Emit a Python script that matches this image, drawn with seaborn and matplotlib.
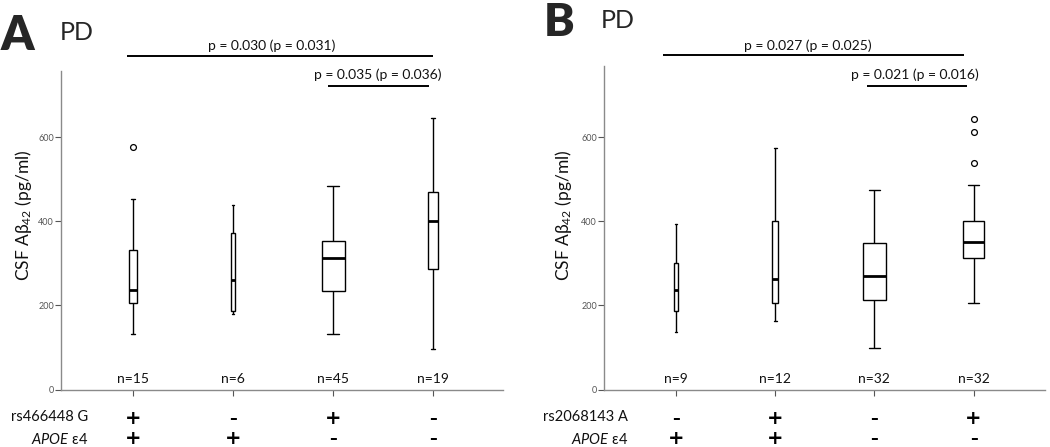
import numpy as np
import pandas as pd
import matplotlib
matplotlib.use("Agg")
import matplotlib.pyplot as plt
import matplotlib.transforms as mtransforms
import seaborn as sns

# ---------------- data ----------------
groups = ["G1", "G2", "G3", "G4"]

snp_A = ["+", "-", "+", "-"]
apoe_A = ["+", "+", "-", "-"]
n_A = [15, 6, 45, 19]
lo_A = [133, 180, 131, 97]
q1_A = [205, 186, 234, 286]
med_A = [236, 261, 314, 400]
q3_A = [333, 373, 354, 469]
hi_A = [453, 440, 484, 646]
out_A = [[577], [], [], []]

snp_B = ["-", "+", "-", "+"]
apoe_B = ["+", "+", "-", "-"]
n_B = [9, 12, 32, 32]
lo_B = [136, 164, 99, 205]
q1_B = [188, 205, 214, 312]
med_B = [236, 262, 269, 352]
q3_B = [302, 401, 349, 402]
hi_B = [394, 575, 474, 486]
out_B = [[], [], [], [540, 613, 644]]

yticks = [0, 200, 400, 600]
snp_label_A = "rs466448 G"
snp_label_B = "rs2068143 A"
p_A = ["p = 0.030 (p = 0.031)", "p = 0.035 (p = 0.036)"]
p_B = ["p = 0.027 (p = 0.025)", "p = 0.021 (p = 0.016)"]

# ---------------- style ----------------
sns.set_theme(style="white")
FAM = ["Lato", "DejaVu Sans"]
plt.rcParams["font.family"] = FAM
plt.rcParams["mathtext.fontset"] = "custom"
plt.rcParams["mathtext.rm"] = "Lato"
plt.rcParams["mathtext.it"] = "Lato:italic"

W, H = 1050, 447
fig = plt.figure(figsize=(W / 100, H / 100), dpi=100)


def px_axes(left, right, top, bottom):
    return fig.add_axes([left / W, 1 - bottom / H, (right - left) / W, (bottom - top) / H])


def fy(ypx):
    return 1 - ypx / H


def draw_panel(ax, lo, q1, med, q3, hi, outs, ns, widths, ylim_top, xlim):
    for i, g in enumerate(groups):
        df = pd.DataFrame({"group": [g] * 5, "value": [lo[i], q1[i], med[i], q3[i], hi[i]]})
        sns.boxplot(data=df, x="group", y="value", order=groups, width=widths[i],
                    whis=(0, 100), showfliers=False, color="white", linecolor="black",
                    linewidth=1.0, ax=ax,
                    medianprops=dict(linewidth=2.0, color="black"))
    odf = pd.DataFrame({"group": [g for i, g in enumerate(groups) for _ in outs[i]],
                        "value": [v for o in outs for v in o]})
    if len(odf):
        sns.stripplot(data=odf, x="group", y="value", order=groups, jitter=False,
                      color="white", edgecolor="black", linewidth=0.9, size=4.2, ax=ax)
    ax.set_xlim(*xlim)
    ax.set_ylim(0, ylim_top)
    ax.set_yticks(yticks)
    ax.set_yticklabels([str(t) for t in yticks], fontsize=6.5, color="#555555")
    ax.set_xticks(range(len(groups)))
    ax.set_xticklabels([])
    ax.set_xlabel("")
    ax.set_ylabel("")
    for s in ["top", "right"]:
        ax.spines[s].set_visible(False)
    for s in ["left", "bottom"]:
        ax.spines[s].set_color("#8a8a8a")
        ax.spines[s].set_linewidth(1.0)
    ax.tick_params(axis="both", which="both", direction="out", length=4, width=0.8,
                   color="#555555", pad=1, left=True, bottom=True)
    for i, n in enumerate(ns):
        ax.text(i, 25, f"n={n}", ha="center", va="center", fontsize=10, color="#111111")


# ---------------- panel A ----------------
axA = px_axes(61, 503, 71, 389.5)
draw_panel(axA, lo_A, q1_A, med_A, q3_A, hi_A, out_A, n_A,
           [0.08, 0.04, 0.23, 0.095], 758, (-0.72, 3.70))

# ---------------- panel B ----------------
axB = px_axes(604, 1045, 66, 389.5)
draw_panel(axB, lo_B, q1_B, med_B, q3_B, hi_B, out_B, n_B,
           [0.045, 0.064, 0.23, 0.22], 770, (-0.725, 3.72))

# y labels
ylab = "CSF A\u03b2$_{42}$ (pg/ml)"
fig.text(24 / W, fy(215), ylab, rotation=90, ha="center",
         va="center", fontsize=12.5, color="#111111")
fig.text(563 / W, fy(215), ylab, rotation=90, ha="center",
         va="center", fontsize=12.5, color="#111111")

# significance bars
def sig(ax, x0, x1, y, txt, tx, ty):
    ax.plot([x0, x1], [y, y], color="black", lw=1.4, clip_on=False, solid_capstyle="butt")
    ax.text(tx, ty, txt, ha="center", va="baseline", fontsize=10, color="#111111",
            clip_on=False)

sig(axA, -0.06, 3.0, 794, p_A[0], 1.39, 808)
sig(axA, 1.95, 2.96, 723, p_A[1], 2.45, 739)
sig(axB, -0.13, 2.9, 796, p_B[0], 1.33, 808)
sig(axB, 1.93, 2.93, 723, p_B[1], 2.41, 739)

# genotype rows
for ax, snp, apoe, lab, rx in [(axA, snp_A, apoe_A, snp_label_A, 88),
                               (axB, snp_B, apoe_B, snp_label_B, 628)]:
    tr = mtransforms.blended_transform_factory(ax.transData, fig.transFigure)
    for i in range(len(groups)):
        for sym, ypx in [(snp[i], 418), (apoe[i], 439)]:
            if sym == "+":
                ax.text(i, fy(ypx), "+", transform=tr, ha="center", va="center",
                        fontsize=14, fontweight="bold", color="black", family="DejaVu Sans")
            else:
                ax.text(i, fy(ypx), "\u2013", transform=tr, ha="center", va="center",
                        fontsize=11, fontweight="bold", color="black", family="DejaVu Sans")
    fig.text(rx / W, fy(417), lab, ha="right", va="center", fontsize=10.5, color="#111111")
    fig.text(rx / W, fy(439), r"$\it{APOE}$ ε4", ha="right", va="center", fontsize=10.5,
             color="#111111")

# panel letters
fig.text(17 / W, fy(36), "A", ha="center", va="center", fontsize=34, fontweight="heavy")
fig.text(77 / W, fy(32), "PD", ha="center", va="center", fontsize=18)
fig.text(559 / W, fy(22), "B", ha="center", va="center", fontsize=33, fontweight="heavy")
fig.text(618 / W, fy(21), "PD", ha="center", va="center", fontsize=18)

fig.savefig("out.png", dpi=100)
